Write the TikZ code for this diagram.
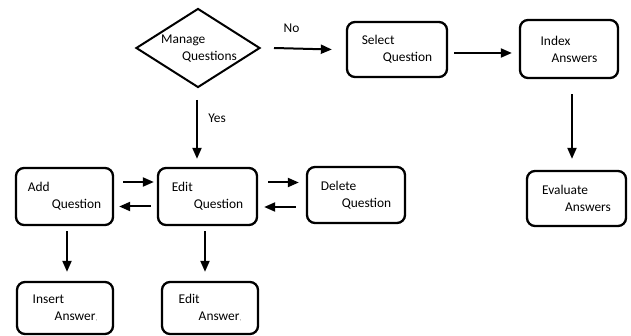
\documentclass[tikz,border=0pt]{standalone}
\usepackage{fontspec}
\setmainfont{Carlito}
\usetikzlibrary{arrows.meta,shapes.geometric}
\begin{document}
\begin{tikzpicture}[x=1pt,y=-1pt,
  txt/.style={font=\fontsize{13.4}{17}\selectfont},
  stepbox/.style={draw, line width=2.3pt, rounded corners=8pt, align=left,
    inner sep=0pt, txt},
  lbl/.style={inner sep=0pt, align=left, txt},
  flow/.style={line width=2pt, -{Triangle[length=11pt,width=9pt]}}]

\fill[white] (0,0) rectangle (631,336);
\useasboundingbox (0,0) rectangle (631,336);

% decision
\node[draw, diamond, line width=2pt, minimum width=124pt, minimum height=79pt,
  inner sep=0pt] (mq) at (198,48) {};
\node[lbl] (mqt) at (199,48.5) {Manage\\\hspace*{21pt}Questions};

% process boxes
\node[stepbox, minimum width=100pt, minimum height=55pt] (sel) at (397,49.5)
  {Select\\\hspace*{21pt}Question};
\node[stepbox, minimum width=98pt, minimum height=58pt] (idx) at (569,49)
  {Index\\\hspace*{11pt}Answers};
\node[stepbox, minimum width=99pt, minimum height=55pt] (eval) at (576.5,198.5)
  {Evaluate\\\hspace*{23pt}Answers};
\node[stepbox, minimum width=97pt, minimum height=57pt] (add) at (64.5,196.5)
  {Add\\\hspace*{24pt}Question};
\node[stepbox, minimum width=99pt, minimum height=57pt] (edq) at (207.5,196.5)
  {Edit\\\hspace*{22pt}Question};
\node[stepbox, minimum width=98pt, minimum height=56pt] (del) at (356,195)
  {Delete\\\hspace*{21pt}Question};
\node[stepbox, minimum width=96pt, minimum height=52pt] (ins) at (65,308)
  {Insert\\\hspace*{22pt}Answer{\color{gray}\scriptsize,}};
\node[stepbox, minimum width=96pt, minimum height=52pt] (eda) at (210,308)
  {Edit\\\hspace*{20pt}Answer{\color{gray}\scriptsize,}};

% edge labels
\node[lbl] (no) at (291.5,28) {No};
\node[lbl] (yes) at (217,118) {Yes};

% connectors
\draw[flow] ([xshift=13pt]mq.east) -- ([xshift=-14pt]sel.west);
\draw[flow] ([xshift=6pt,yshift=-3.5pt]sel.east) -- ([xshift=-7pt,yshift=-4pt]idx.west);
\draw[flow] ([xshift=3pt,yshift=-15pt]idx.south) -- ([xshift=-4.5pt,yshift=11pt]eval.north);
\draw[flow] ([xshift=-1pt,yshift=-11.5pt]mq.south) -- ([xshift=-10.5pt,yshift=8pt]edq.north);
\draw[flow] ([xshift=9pt,yshift=14.5pt]add.east) -- ([xshift=-3pt,yshift=14.5pt]edq.west);
\draw[flow] ([xshift=-6pt,yshift=-10pt]edq.west) -- ([xshift=5pt,yshift=-10pt]add.east);
\draw[flow] ([xshift=10pt,yshift=14pt]edq.east) -- ([xshift=-7pt,yshift=12.5pt]del.west);
\draw[flow] ([xshift=-10pt,yshift=-12pt]del.west) -- ([xshift=6pt,yshift=-10.5pt]edq.east);
\draw[flow] ([xshift=2.5pt,yshift=-5pt]add.south) -- ([xshift=2pt,yshift=9pt]ins.north);
\draw[flow] ([xshift=-2.5pt,yshift=-5pt]edq.south) -- ([xshift=-5pt,yshift=9pt]eda.north);
\end{tikzpicture}
\end{document}
